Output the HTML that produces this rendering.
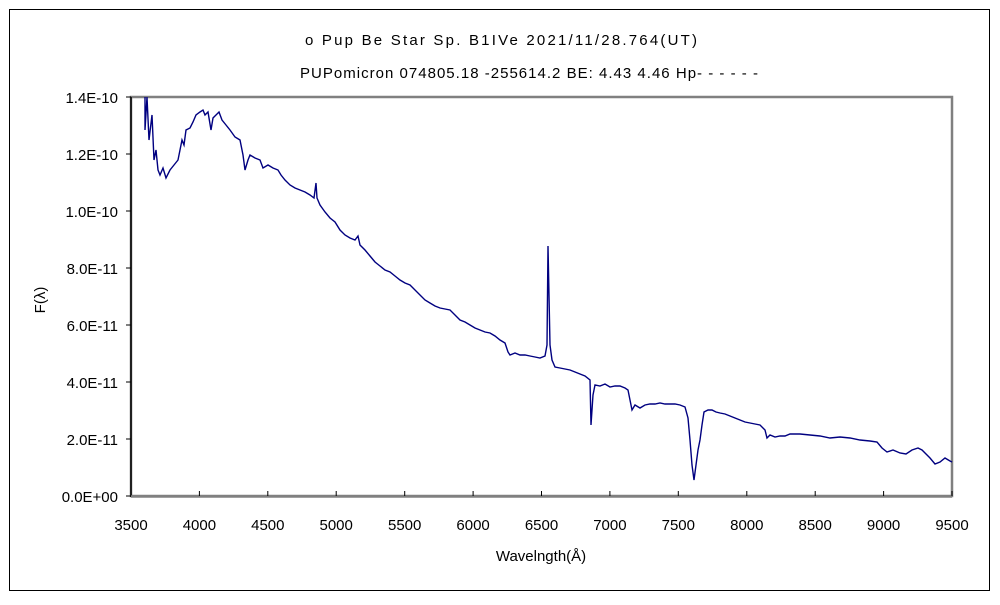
<!DOCTYPE html>
<html><head><meta charset="utf-8"><style>
body{margin:0;background:#fff;}
svg text{font-family:"Liberation Sans","Noto Sans CJK JP",sans-serif;fill:#000;}
</style></head><body>
<svg width="1000" height="600" xmlns="http://www.w3.org/2000/svg">
<rect x="0" y="0" width="1000" height="600" fill="#fff"/>
<rect x="9.5" y="9.5" width="980" height="581" fill="none" stroke="#000" stroke-width="1"/>
<text x="305" y="45" font-size="15" textLength="392" lengthAdjust="spacing">ο Pup    Be Star    Sp. B1IVe    2021/11/28.764(UT)</text>
<text x="300" y="78" font-size="15" textLength="458" lengthAdjust="spacing">PUPomicron 074805.18 -255614.2 BE: 4.43 4.46 Hp- - - - - -</text>
<rect x="131" y="97" width="821" height="399" fill="#fff" stroke="#808080" stroke-width="2.5"/>
<line x1="131" y1="97" x2="131" y2="497" stroke="#000" stroke-width="1.5"/>
<line x1="131" y1="496.5" x2="952" y2="496.5" stroke="#808080" stroke-width="2.5"/>
<g stroke="#000" stroke-width="1">
<line x1="126" y1="97" x2="131" y2="97"/><line x1="126" y1="154" x2="131" y2="154"/><line x1="126" y1="211" x2="131" y2="211"/><line x1="126" y1="268" x2="131" y2="268"/><line x1="126" y1="325" x2="131" y2="325"/><line x1="126" y1="382" x2="131" y2="382"/><line x1="126" y1="439" x2="131" y2="439"/><line x1="126" y1="496" x2="131" y2="496"/>
<line x1="199.4" y1="491" x2="199.4" y2="496"/><line x1="267.8" y1="491" x2="267.8" y2="496"/><line x1="336.2" y1="491" x2="336.2" y2="496"/><line x1="404.7" y1="491" x2="404.7" y2="496"/><line x1="473.1" y1="491" x2="473.1" y2="496"/><line x1="541.5" y1="491" x2="541.5" y2="496"/><line x1="609.9" y1="491" x2="609.9" y2="496"/><line x1="678.3" y1="491" x2="678.3" y2="496"/><line x1="746.8" y1="491" x2="746.8" y2="496"/><line x1="815.2" y1="491" x2="815.2" y2="496"/><line x1="883.6" y1="491" x2="883.6" y2="496"/><line x1="952" y1="491" x2="952" y2="496"/>
</g>
<g font-size="15" text-anchor="end">
<text x="118" y="103">1.4E-10</text><text x="118" y="160">1.2E-10</text><text x="118" y="217">1.0E-10</text><text x="118" y="274">8.0E-11</text><text x="118" y="331">6.0E-11</text><text x="118" y="388">4.0E-11</text><text x="118" y="445">2.0E-11</text><text x="118" y="502">0.0E+00</text>
</g>
<g font-size="15" text-anchor="middle">
<text x="131" y="530">3500</text><text x="199.4" y="530">4000</text><text x="267.8" y="530">4500</text><text x="336.2" y="530">5000</text><text x="404.7" y="530">5500</text><text x="473.1" y="530">6000</text><text x="541.5" y="530">6500</text><text x="609.9" y="530">7000</text><text x="678.3" y="530">7500</text><text x="746.8" y="530">8000</text><text x="815.2" y="530">8500</text><text x="883.6" y="530">9000</text><text x="952" y="530">9500</text>
<text x="541" y="561">Wavelngth(Å)</text>
<text x="0" y="0" transform="translate(45,300) rotate(-90)">F(λ)</text>
</g>
<polyline fill="none" stroke="#000080" stroke-width="1.4" stroke-linejoin="miter" points="145,97 145,130 147,97 149,140 152,115 154,160 156,150 158,170 160,175 163,168 166,178 170,170 174,165 178,160 180,150 182,140 184,145 186,130 190,128 193,122 196,115 200,112 203,110 205,115 208,112 211,130 213,118 216,115 219,112 222,120 226,125 230,130 235,137 240,140 243,155 245,170 248,160 250,155 255,158 260,160 263,168 268,165 273,168 278,170 281,175 285,180 290,185 295,188 300,190 305,192 310,195 314,198 316,183 317,198 320,205 325,212 330,218 335,222 340,230 345,235 350,238 355,240 358,236 360,245 365,250 370,256 375,262 380,266 385,270 390,272 395,276 400,280 405,283 410,285 415,290 420,295 425,300 430,303 435,306 440,308 445,309 450,310 455,315 460,320 465,322 470,325 475,328 480,330 485,332 490,333 495,336 500,340 505,343 508,352 510,355 515,353 520,355 525,355 530,356 535,357 540,358 545,356 547,345 548,246 550,345 552,360 555,367 560,368 565,369 570,370 575,372 580,374 585,376 590,380 591,425 593,395 595,385 600,386 605,384 610,387 615,386 620,386 625,388 628,390 632,410 635,405 640,408 645,405 650,404 655,404 660,403 665,404 670,404 675,404 680,405 685,407 688,418 690,440 692,465 694,480 696,465 698,450 700,440 702,425 704,412 708,410 712,410 716,412 720,413 725,414 730,416 735,418 740,420 745,422 750,423 755,424 760,425 765,430 767,438 770,435 775,437 780,436 785,436 790,434 800,434 810,435 820,436 830,438 840,437 850,438 860,440 870,441 877,442 882,448 887,452 893,450 900,453 906,454 912,450 918,448 922,450 930,458 935,464 940,462 945,458 950,461 952,462"/>
</svg>
</body></html>
